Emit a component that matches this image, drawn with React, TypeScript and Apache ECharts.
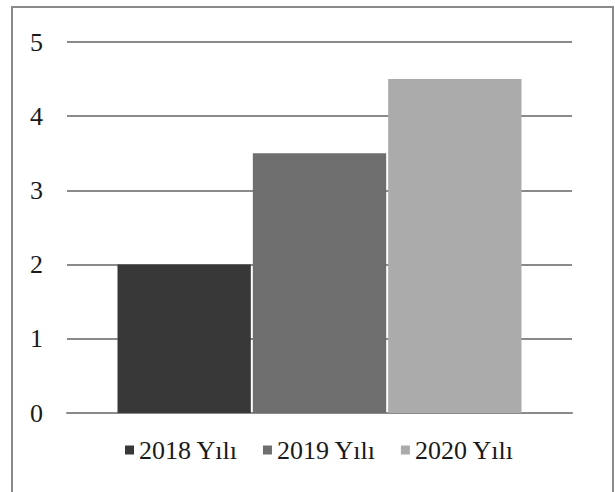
import React, { useEffect, useRef } from "react";
import * as echarts from "echarts";

const categories = [""];
const seriesNames = ["2018 Yılı", "2019 Yılı", "2020 Yılı"];
const seriesValues = [[2], [3.5], [4.5]];
const colors = ["#383838", "#6e6e6e", "#ababab"];

export default function App() {
  const ref = useRef<HTMLDivElement>(null);
  useEffect(() => {
    if (!ref.current) return;
    const chart = echarts.init(ref.current, null, { renderer: "svg" });
    const font = "'Liberation Serif', 'Times New Roman', serif";
    chart.setOption({
      animation: false,
      backgroundColor: "#ffffff",
      textStyle: { fontFamily: font },
      graphic: [
        {
          type: "rect",
          shape: { x: 12, y: 7, width: 601, height: 520 },
          style: { fill: "none", stroke: "#8a8a8a", lineWidth: 2 },
          silent: true,
          z: 0,
        },
      ],
      grid: { left: 67, right: 43, top: 42, bottom: 79 },
      legend: {
        top: 432,
        left: 120,
        icon: "rect",
        itemWidth: 9,
        itemHeight: 9,
        itemGap: 25,
        textStyle: { fontFamily: font, fontSize: 26, color: "#1a1a1a" },
        data: seriesNames,
      },
      xAxis: {
        type: "category",
        data: categories,
        axisLine: { show: true, lineStyle: { color: "#8a8a8a", width: 2 } },
        axisTick: { show: false },
        axisLabel: { show: false },
      },
      yAxis: {
        type: "value",
        min: 0,
        max: 5,
        interval: 1,
        axisLine: { show: false },
        axisTick: { show: false },
        axisLabel: { fontFamily: font, fontSize: 26, color: "#1a1a1a", margin: 24 },
        splitLine: { lineStyle: { color: "#8a8a8a", width: 2 } },
      },
      series: seriesNames.map((name, i) => ({
        name,
        type: "bar",
        data: seriesValues[i],
        barCategoryGap: "20%",
        barGap: "1.5%",
        itemStyle: { color: colors[i] },
      })),
    });
    return () => chart.dispose();
  }, []);
  return (
    <div
      ref={ref}
      style={{ position: "absolute", left: 0, top: 0, width: 615, height: 492 }}
    />
  );
}
